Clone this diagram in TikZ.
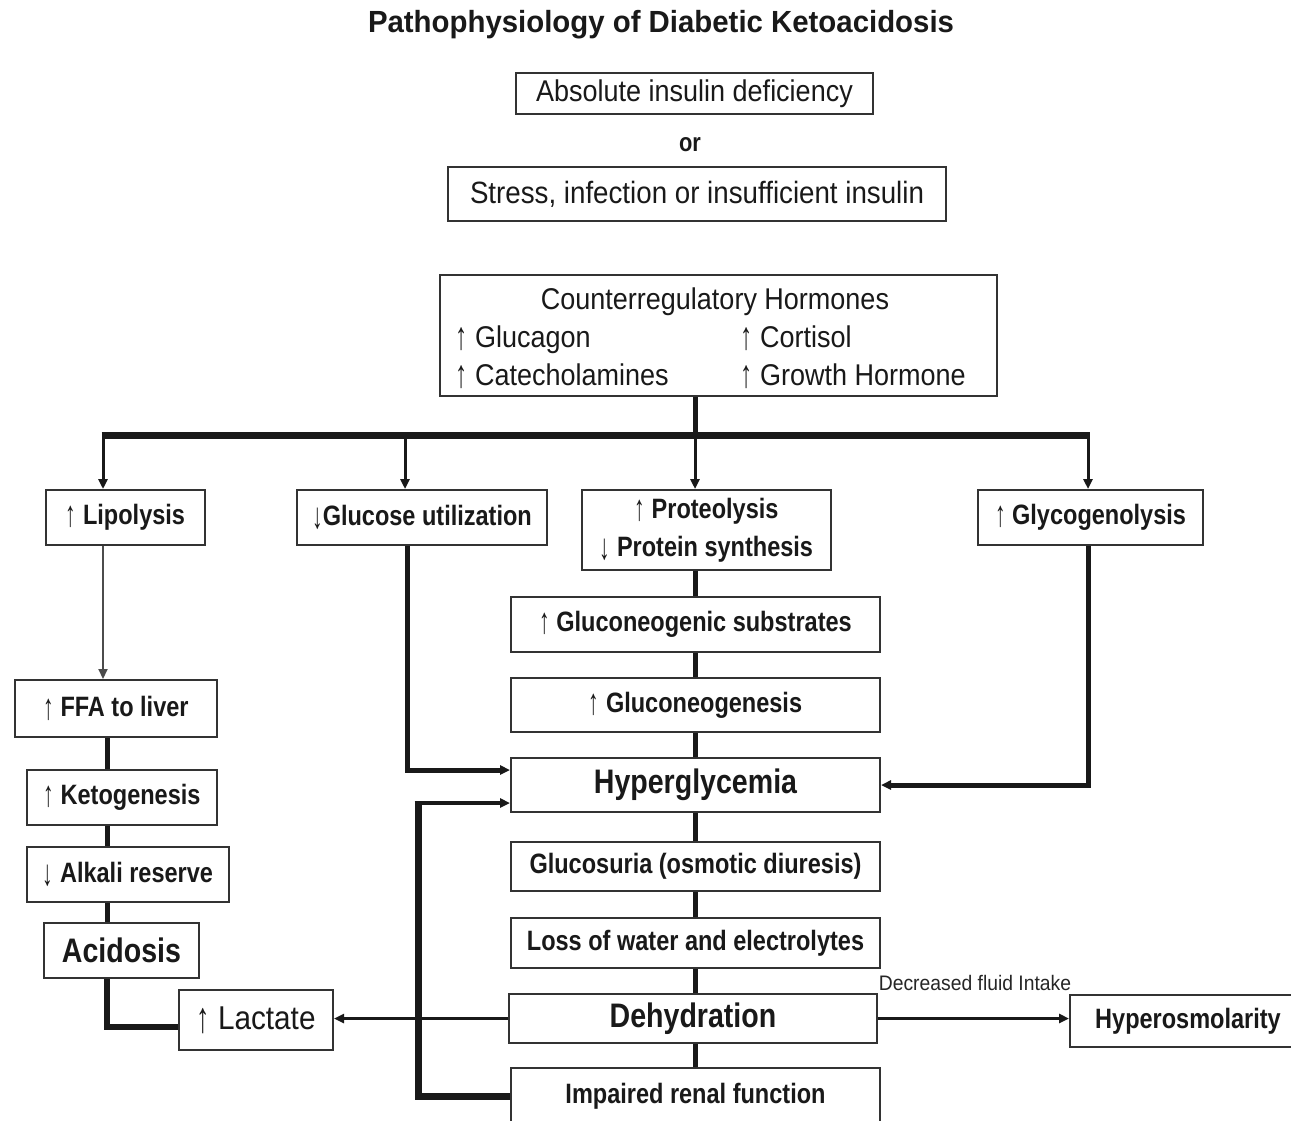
\documentclass[tikz,border=0pt]{standalone}
\usepackage{fontspec}
\usetikzlibrary{arrows.meta,calc,shadows}
\newfontfamily\rgf[FakeStretch=0.9]{Liberation Sans}
\newfontfamily\bdf[FakeStretch=0.84]{Liberation Sans}
\newfontfamily\ttlfont[FakeStretch=0.96]{Liberation Sans}
\newfontfamily\dfifont[FakeStretch=0.92]{Liberation Sans}
\newcommand\upar{\raisebox{-0.08em}{\scalebox{0.9}[1.3]{↑}}}
\newcommand\dnar{\raisebox{-0.12em}{\scalebox{0.9}[1.3]{↓}}}
\newcommand\bx[7]{%
 \pgfmathsetmacro\bxw{(#4-#2)*0.5}\pgfmathsetmacro\bxh{(#5-#3)*0.5}%
 \node[box,#6,minimum width=\bxw pt,minimum height=\bxh pt] (#1) at ({(#2+#4)/2},{(#3+#5)/2}) {#7};}
\begin{document}
\begin{tikzpicture}[x=0.5pt,y=-0.5pt,
 box/.style={draw=black!80,line width=1pt,fill=white,inner sep=0pt,align=center,text=black!90,
   drop shadow={shadow xshift=0.6pt,shadow yshift=-0.7pt,fill=black!35,opacity=1}},
 rg/.style={font=\rgf\fontsize{15}{18}\selectfont,text=black!90},
 bd/.style={font=\bdf\bfseries\fontsize{14}{19}\selectfont},
 big/.style={font=\bdf\bfseries\fontsize{17}{20}\selectfont},
 tip/.style={-{Triangle[length=5pt,width=4.5pt]}},
 bar/.style={line width=3.5pt,black!90},
 brn/.style={line width=1.5pt,black!90,tip},
 col/.style={line width=2.5pt,black!90},
]
\clip (0,0) rectangle (1291,1120);
\fill[white] (0,0) rectangle (1291,1120);
% title and causes
\node[font=\ttlfont\bfseries\fontsize{15.3}{18}\selectfont,text=black!90] (title) at (661,25) {Pathophysiology of Diabetic Ketoacidosis};
\bx{abs}{516}{73}{873}{114}{rg}{Absolute insulin deficiency}
\node[font=\bdf\bfseries\fontsize{13}{15}\selectfont,text=black!90] (or) at (690,145) {or};
\bx{stress}{448}{167}{946}{221}{rg,font=\rgf\fontsize{15.4}{18}\selectfont}{Stress, infection or insufficient insulin}
% hormones
\bx{horm}{440}{275}{997}{396}{}{}
\node[rg,anchor=base,inner sep=0pt] (hormt) at (715,309) {Counterregulatory Hormones};
\node[rg,anchor=base west,inner sep=0pt] (glucagon) at (455,347) {\upar\ Glucagon};
\node[rg,anchor=base west,inner sep=0pt] (cortisol) at (740,347) {\upar\ Cortisol};
\node[rg,anchor=base west,inner sep=0pt] (catech) at (455,385) {\upar\ Catecholamines};
\node[rg,anchor=base west,inner sep=0pt] (gh) at (740,385) {\upar\ Growth Hormone};
% second row
\bx{lip}{46}{490}{205}{545}{bd}{\upar\ Lipolysis}
\bx{gluc}{297}{490}{547}{545}{bd}{\dnar Glucose utilization}
\bx{prot}{582}{490}{831}{570}{bd}{\upar\ Proteolysis\\\dnar\ Protein synthesis}
\bx{glyco}{978}{490}{1203}{545}{bd}{\upar\ Glycogenolysis}
% central column
\bx{subst}{511}{597}{880}{652}{bd}{\upar\ Gluconeogenic substrates}
\bx{gneo}{511}{678}{880}{732}{bd}{\upar\ Gluconeogenesis}
\bx{hyper}{511}{758}{880}{812}{big}{Hyperglycemia}
\bx{glucos}{511}{842}{880}{891}{bd}{Glucosuria (osmotic diuresis)}
\bx{loss}{511}{918}{880}{968}{bd}{Loss of water and electrolytes}
\bx{dehyd}{509}{994}{877}{1043}{big}{Dehydration}
\bx{renal}{511}{1068}{880}{1124}{bd}{Impaired renal function}
\bx{hyperosm}{1070}{995}{1306}{1047}{bd}{Hyperosmolarity}
\node[font=\dfifont\fontsize{10.5}{12}\selectfont,text=black!85,anchor=base,inner sep=0pt] (dfi) at (975,990) {Decreased fluid Intake};
% left column
\bx{ffa}{15}{680}{217}{737}{bd}{\upar\ FFA to liver}
\bx{keto}{27}{770}{217}{825}{bd}{\upar\ Ketogenesis}
\bx{alk}{27}{847}{229}{902}{bd}{\dnar\ Alkali reserve}
\bx{acid}{44}{923}{199}{978}{big}{Acidosis}
\bx{lact}{179}{990}{333}{1050}{font=\rgf\fontsize{16.5}{20}\selectfont}{\upar\ Lactate}
% connectors
\coordinate (j) at (695,435);
\coordinate (bl) at (103,435);
\coordinate (bg) at (405,435);
\coordinate (brr) at (1088,435);
\draw[col] (horm.south -| j) -- (j);
\draw[bar] ([xshift=-0.75pt]bl) -- ([xshift=0.75pt]brr);
\draw[brn] (bl) -- (bl |- lip.north);
\draw[brn] (bg) -- (bg |- gluc.north);
\draw[brn] (j) -- (j |- prot.north);
\draw[brn] (brr) -- (brr |- glyco.north);
% left chain
\draw[line width=1pt,black!70,tip] (bl |- lip.south) -- (bl |- ffa.north);
\coordinate (lc) at (107,0);
\draw[col] (lc |- ffa.south) -- (lc |- keto.north);
\draw[col] (lc |- keto.south) -- (lc |- alk.north);
\draw[col] (lc |- alk.south) -- (lc |- acid.north);
\draw[line width=3pt,black!90] (lc |- acid.south) |- ([yshift=-3.5pt]lact.west);
% central chain
\draw[col] (prot.south -| j) -- (subst.north -| j);
\draw[col] (subst.south -| j) -- (gneo.north -| j);
\draw[col] (gneo.south -| j) -- (hyper.north -| j);
\draw[col] (hyper.south -| j) -- (glucos.north -| j);
\draw[col] (glucos.south -| j) -- (loss.north -| j);
\draw[col] (loss.south -| j) -- (dehyd.north -| j);
\draw[col] (dehyd.south -| j) -- (renal.north -| j);
% into hyperglycemia
\draw[col,tip] ([xshift=-7.5pt]gluc.south) |- ([yshift=7.5pt]hyper.west);
\draw[col,tip] (brr |- glyco.south) |- (hyper.east);
\coordinate (rl) at (418,0);
\coordinate (hl) at ([yshift=-9pt]hyper.west);
\draw[line width=3.5pt,black!90] (renal.west) -| (rl |- hl);
\draw[line width=1.8pt,black!90,tip] ([xshift=-1.75pt]rl |- hl) -- (hl);
% from dehydration
\draw[line width=1.2pt,black!90,tip] (dehyd.west) -- (dehyd.west -| lact.east);
\draw[line width=1.5pt,black!90,tip] (dehyd.east) -- (dehyd.east -| hyperosm.west);
\end{tikzpicture}
\end{document}
